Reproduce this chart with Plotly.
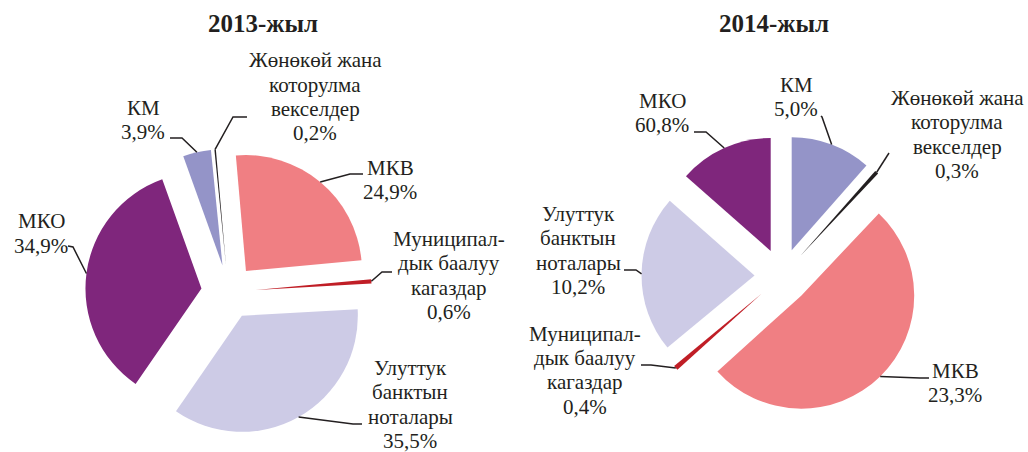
import math
import plotly.graph_objects as go

W, H = 1028, 452
FONT = "Liberation Serif, Times New Roman, serif"
INK = "#231F20"

# ---------------- data ----------------
MKB, MUN, NOTES, MKO, KM, BILLS = "МКВ", "Муниципалдык баалуу кагаздар", "Улуттук банктын ноталары", "МКО", "КМ", "Жөнөкөй жана которулма векселдер"

label_lines = {
    MKB: ["МКВ"],
    MUN: ["Муниципал-", "дык баалуу", "кагаздар"],
    NOTES: ["Улуттук", "банктын", "ноталары"],
    MKO: ["МКО"],
    KM: ["КМ"],
    BILLS: ["Жөнөкөй жана", "которулма", "векселдер"],
}
colors = {
    MKB: "#F07F83",
    MUN: "#C01E26",
    NOTES: "#CDCBE6",
    MKO: "#7F267C",
    KM: "#9494C8",
    BILLS: "#231F20",
}

# 2013 (clockwise order)
cats_2013 = [MKB, MUN, NOTES, MKO, KM, BILLS]
shares_2013 = [24.9, 0.6, 35.5, 34.9, 3.9, 0.2]
pct_text_2013 = ["24,9%", "0,6%", "35,5%", "34,9%", "3,9%", "0,2%"]

# 2014 (clockwise order); slice sizes as drawn, percentages as printed
cats_2014 = [KM, BILLS, MKB, MUN, NOTES, MKO]
shares_2014 = [11.5, 0.55, 51.25, 0.7, 22.5, 13.5]
pct_text_2014 = ["5,0%", "0,3%", "23,3%", "0,4%", "10,2%", "60,8%"]

titles = ["2013-жыл", "2014-жыл"]

# ---------------- layout (pixels) ----------------
pies = [
    dict(cats=cats_2013, vals=shares_2013, pct=pct_text_2013, cx=228.5, cy=292, r=116, pull=0.235, rot=-5,
         title_x=263,
         labels={  # center x, first baseline, leader start, elbow
             BILLS: (315, 67.5, (247, 117), (233, 117)),
             KM: (143, 115, (170, 138), (182, 138)),
             MKB: (390, 175, (363, 174), (350, 174)),
             MUN: (449, 246, (392, 272), (382, 272)),
             NOTES: (410, 375, (362, 424), (353, 424)),
             MKO: (41, 228.3, (68, 246), (73, 247)),
         }),
    dict(cats=cats_2014, vals=shares_2014, pct=pct_text_2014, cx=782, cy=276, r=113, pull=0.243, rot=0,
         title_x=774,
         labels={
             KM: (796, 91.7, (821, 116), (822, 117)),
             BILLS: (957, 105, (889, 153), (889, 153)),
             MKO: (662, 107.7, (694, 132), (706, 132)),
             NOTES: (578, 221, (624, 270), (636, 270)),
             MUN: (585, 340.7, (641, 365), (651, 365)),
             MKB: (955, 377.7, (929, 378), (920, 378)),
         }),
]

LINE_SP = 24.3
FS = 21


def px(x):
    return x / W


def py(y):
    return 1 - y / H


fig = go.Figure()
annotations = []
shapes = []

for i, p in enumerate(pies):
    R = p["r"] * (1 + p["pull"])
    fig.add_trace(go.Pie(
        labels=p["cats"], values=p["vals"], sort=False, direction="clockwise",
        rotation=p["rot"], pull=p["pull"],
        marker=dict(colors=[colors[c] for c in p["cats"]], line=dict(width=0)),
        textinfo="none", hoverinfo="label+percent", showlegend=False,
        domain=dict(x=[px(p["cx"] - R), px(p["cx"] + R)], y=[py(p["cy"] + R), py(p["cy"] - R)]),
    ))
    annotations.append(dict(text="<b>%s</b>" % titles[i], x=px(p["title_x"]), y=py(23.6),
                            xref="paper", yref="paper", showarrow=False, xanchor="center", yanchor="middle",
                            font=dict(family=FONT, size=25, color=INK)))
    total = sum(p["vals"])
    cum = 0.0
    for cat, v, pct in zip(p["cats"], p["vals"], p["pct"]):
        mid = math.radians(p["rot"] + (cum + v / 2) / total * 360)
        cum += v
        dx, dy = math.sin(mid), -math.cos(mid)
        ax = p["cx"] + p["r"] * p["pull"] * dx + p["r"] * dx
        ay = p["cy"] + p["r"] * p["pull"] * dy + p["r"] * dy
        lx, base, start, elbow = p["labels"][cat]
        lines = label_lines[cat] + [pct]
        for k, t in enumerate(lines):
            annotations.append(dict(text=t, x=px(lx), y=py(base + k * LINE_SP - 7.1),
                                    xref="paper", yref="paper", showarrow=False,
                                    xanchor="center", yanchor="middle",
                                    font=dict(family=FONT, size=FS, color=INK)))
        path = "M %f %f L %f %f L %f %f" % (px(start[0]), py(start[1]), px(elbow[0]), py(elbow[1]), px(ax), py(ay))
        shapes.append(dict(type="path", path=path, xref="paper", yref="paper",
                           line=dict(color=INK, width=1.5)))

fig.update_layout(
    width=W, height=H, margin=dict(l=0, r=0, t=0, b=0),
    paper_bgcolor="white", plot_bgcolor="white",
    annotations=annotations, shapes=shapes, showlegend=False,
)
fig.write_html("out.html", config={"displayModeBar": False},
               post_script="document.body.style.margin='0';document.body.style.overflow='hidden';")
